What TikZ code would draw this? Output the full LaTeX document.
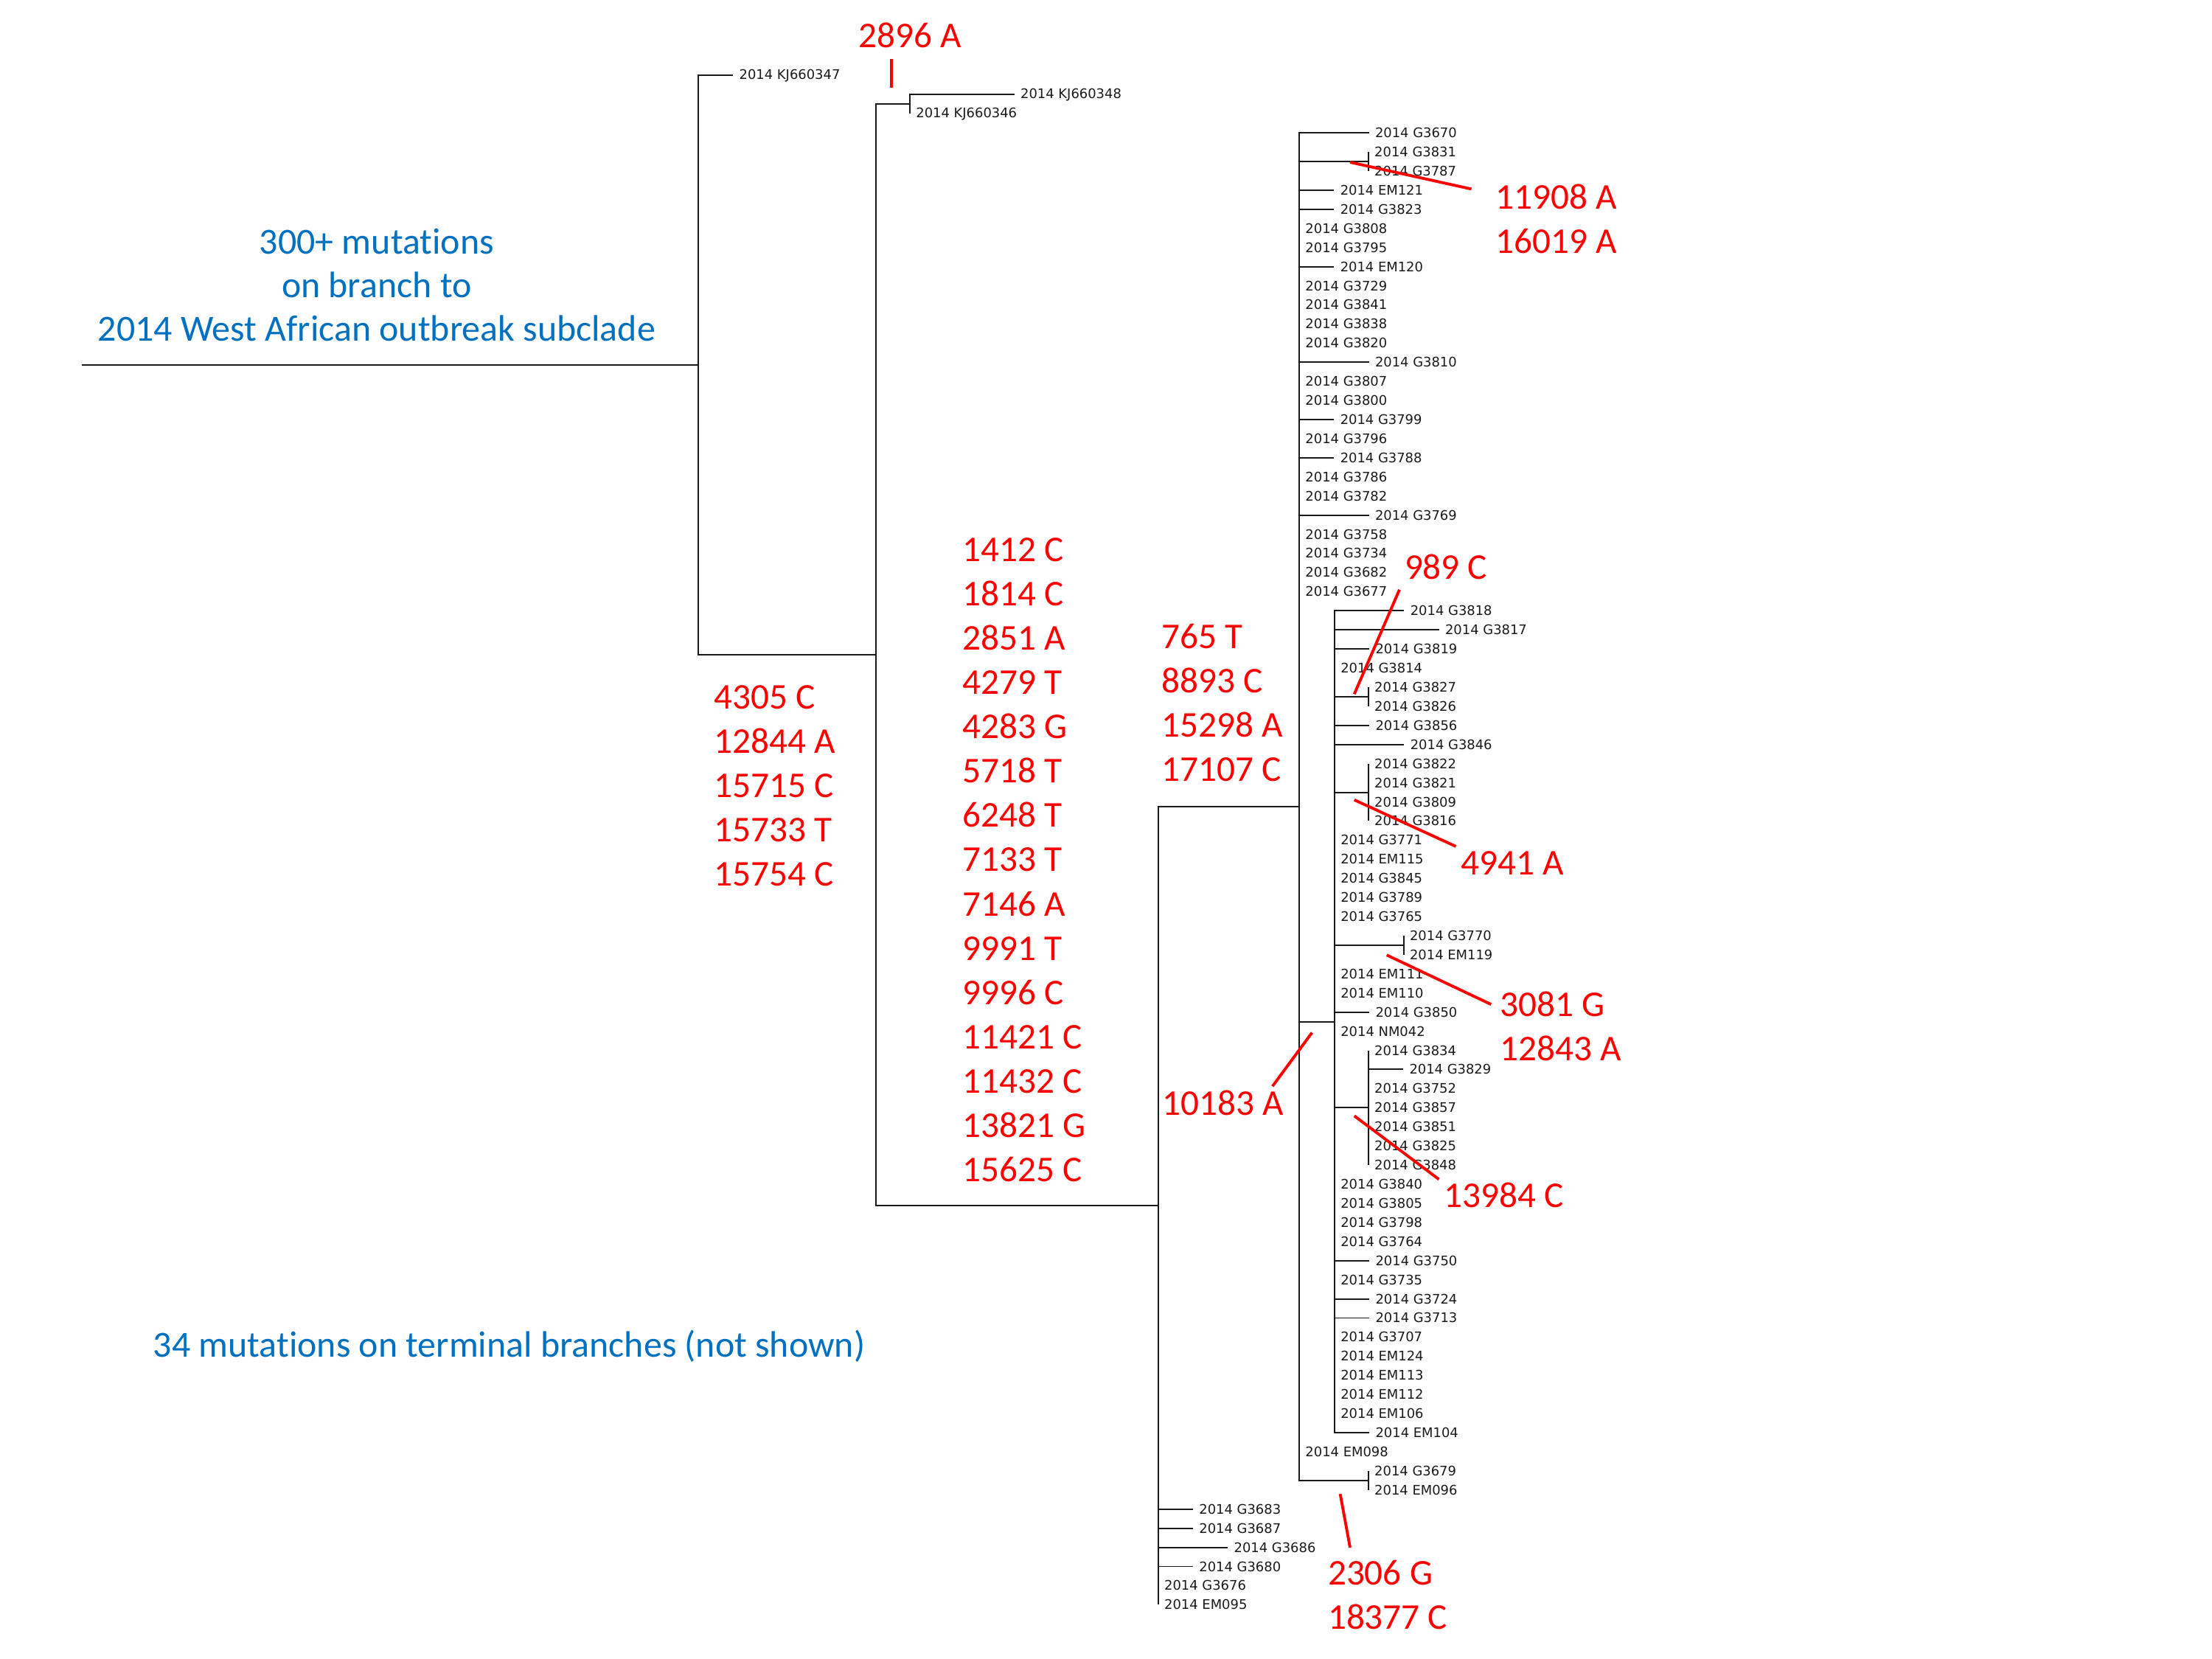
\documentclass[tikz,border=0pt]{standalone}
\usepackage{fontspec}
\setmainfont{Carlito}[Ligatures=NoCommon]
\newfontfamily\tipfont{DejaVu Sans}
\definecolor{treeink}{HTML}{1A1A1A}
\definecolor{mutred}{HTML}{FF0000}
\definecolor{noteblue}{HTML}{0070C0}
% row position of a tip (rows are evenly spaced)
\newcommand\ry[1]{53.5+13.55*#1}
\tikzset{
  branch/.style={draw=treeink, line width=0.55pt},
  tip label/.style={anchor=west, inner sep=0.0765cm,
    font=\tipfont\fontsize{5.1}{6}\selectfont, text=treeink},
  mut tick/.style={draw=mutred, line width=1.1pt},
  mut label/.style={font=\fontsize{14}{17.1}\selectfont, text=mutred,
    inner sep=0pt, align=left},
  note label/.style={font=\fontsize{14.2}{16.9}\selectfont, text=noteblue,
    inner sep=0pt, align=center},
}

\begin{document}
\begin{tikzpicture}[x=0.019133cm, y=-0.019133cm]
  \fill[white] (0,0) rectangle (1568,1176);
  \useasboundingbox (0,0) rectangle (1568,1176);

  % internal nodes
  \coordinate (base) at (58,\ry{15.15625});
  \coordinate (nroot) at (495,\ry{15.15625});
  \coordinate (n621) at (621,\ry{30.3125});
  \coordinate (nKJ) at (645,\ry{1.5});
  \coordinate (n821) at (821,\ry{59.125});
  \coordinate (n921) at (921,\ry{38.25});
  \coordinate (c4) at (970,\ry{4.5});
  \coordinate (n946) at (946,\ry{49.5});
  \coordinate (c32) at (970,\ry{32.5});
  \coordinate (g36) at (970,\ry{37.5});
  \coordinate (c45) at (995,\ry{45.5});
  \coordinate (g51) at (970,\ry{54});
  \coordinate (c73) at (970,\ry{73.5});

  \draw[branch] (base) -- (nroot);
  \foreach \p/\c in {nroot/n621, n621/nKJ, n621/n821, n821/n921,
      n921/c4, n921/n946, n946/c32, n946/g36, n946/c45, n946/g51,
      n921/c73}
    \draw[branch] (\p) |- (\c);

  % tips: row/name/parent/parent x/branch length
  \foreach \r/\lab/\p/\px/\k in {
      0/KJ660347/nroot/495/1, 1/KJ660348/nKJ/645/3, 2/KJ660346/nKJ/645/0,
      3/G3670/n921/921/2, 4/G3831/c4/970/0, 5/G3787/c4/970/0,
      6/EM121/n921/921/1, 7/G3823/n921/921/1, 8/G3808/n921/921/0,
      9/G3795/n921/921/0, 10/EM120/n921/921/1, 11/G3729/n921/921/0,
      12/G3841/n921/921/0, 13/G3838/n921/921/0, 14/G3820/n921/921/0,
      15/G3810/n921/921/2, 16/G3807/n921/921/0, 17/G3800/n921/921/0,
      18/G3799/n921/921/1, 19/G3796/n921/921/0, 20/G3788/n921/921/1,
      21/G3786/n921/921/0, 22/G3782/n921/921/0, 23/G3769/n921/921/2,
      24/G3758/n921/921/0, 25/G3734/n921/921/0, 26/G3682/n921/921/0,
      27/G3677/n921/921/0,
      28/G3818/n946/946/2, 29/G3817/n946/946/3, 30/G3819/n946/946/1,
      31/G3814/n946/946/0, 32/G3827/c32/970/0, 33/G3826/c32/970/0,
      34/G3856/n946/946/1, 35/G3846/n946/946/2, 36/G3822/g36/970/0,
      37/G3821/g36/970/0, 38/G3809/g36/970/0, 39/G3816/g36/970/0,
      40/G3771/n946/946/0, 41/EM115/n946/946/0, 42/G3845/n946/946/0,
      43/G3789/n946/946/0, 44/G3765/n946/946/0, 45/G3770/c45/995/0,
      46/EM119/c45/995/0, 47/EM111/n946/946/0, 48/EM110/n946/946/0,
      49/G3850/n946/946/1, 50/NM042/n946/946/0, 51/G3834/g51/970/0,
      52/G3829/g51/970/1, 53/G3752/g51/970/0, 54/G3857/g51/970/0,
      55/G3851/g51/970/0, 56/G3825/g51/970/0, 57/G3848/g51/970/0,
      58/G3840/n946/946/0, 59/G3805/n946/946/0, 60/G3798/n946/946/0,
      61/G3764/n946/946/0, 62/G3750/n946/946/1, 63/G3735/n946/946/0,
      64/G3724/n946/946/1, 65/G3713/n946/946/1, 66/G3707/n946/946/0,
      67/EM124/n946/946/0, 68/EM113/n946/946/0, 69/EM112/n946/946/0,
      70/EM106/n946/946/0, 71/EM104/n946/946/1,
      72/EM098/n921/921/0, 73/G3679/c73/970/0, 74/EM096/c73/970/0,
      75/G3683/n821/821/1, 76/G3687/n821/821/1, 77/G3686/n821/821/2,
      78/G3680/n821/821/1, 79/G3676/n821/821/0, 80/EM095/n821/821/0}{
    \node[tip label] (t\r) at ({\px+\k*24.7},\ry{\r}) {2014 \lab};
    \draw[branch] (\p) |- (t\r.west);
  }

  % mutations
  \node[mut label] (m2896) at (645,25) {2896 A};
  \node[mut label, anchor=west] (m11908) at (1060,155) {11908 A\\16019 A};
  \node[mut label, anchor=west] (m4305) at (506,557)
    {4305 C\\12844 A\\15715 C\\15733 T\\15754 C};
  \node[mut label, anchor=west] (m1412) at (682,609.5)
    {1412 C\\1814 C\\2851 A\\4279 T\\4283 G\\5718 T\\6248 T\\7133 T\\7146 A\\9991 T\\9996 C\\11421 C\\11432 C\\13821 G\\15625 C};
  \node[mut label, anchor=west] (m765) at (823,498)
    {765 T\\8893 C\\15298 A\\17107 C};
  \node[mut label] (m989) at (1025,402) {989 C};
  \node[mut label] (m4941) at (1072,612) {4941 A};
  \node[mut label, anchor=west] (m3081) at (1063,727.5) {3081 G\\12843 A};
  \node[mut label] (m10183) at (867,782) {10183 A};
  \node[mut label] (m13984) at (1066,847) {13984 C};
  \node[mut label, anchor=west] (m2306) at (941,1130.5) {2306 G\\18377 C};

  \coordinate (k2896a) at (632,42);   \coordinate (k2896b) at (632,62);
  \coordinate (k11908a) at (957,115); \coordinate (k11908b) at (1043,134);
  \coordinate (k989a) at (992,418);   \coordinate (k989b) at (960,492);
  \coordinate (k4941a) at (960,567);  \coordinate (k4941b) at (1032,600);
  \coordinate (k3081a) at (983,677);  \coordinate (k3081b) at (1057,712);
  \coordinate (k10183a) at (902,770); \coordinate (k10183b) at (930,732);
  \coordinate (k13984a) at (960,791); \coordinate (k13984b) at (1020,836);
  \coordinate (k2306a) at (950,1059); \coordinate (k2306b) at (957,1097);
  \foreach \m in {2896, 11908, 989, 4941, 3081, 10183, 13984, 2306}
    \draw[mut tick] (k\m a) -- (k\m b);

  \node[note label] (outbreak) at (267,202)
    {300+ mutations\\on branch to\\2014 West African outbreak subclade};
  \node[note label] (terminal) at (361,954)
    {34 mutations on terminal branches (not shown)};
\end{tikzpicture}
\end{document}
